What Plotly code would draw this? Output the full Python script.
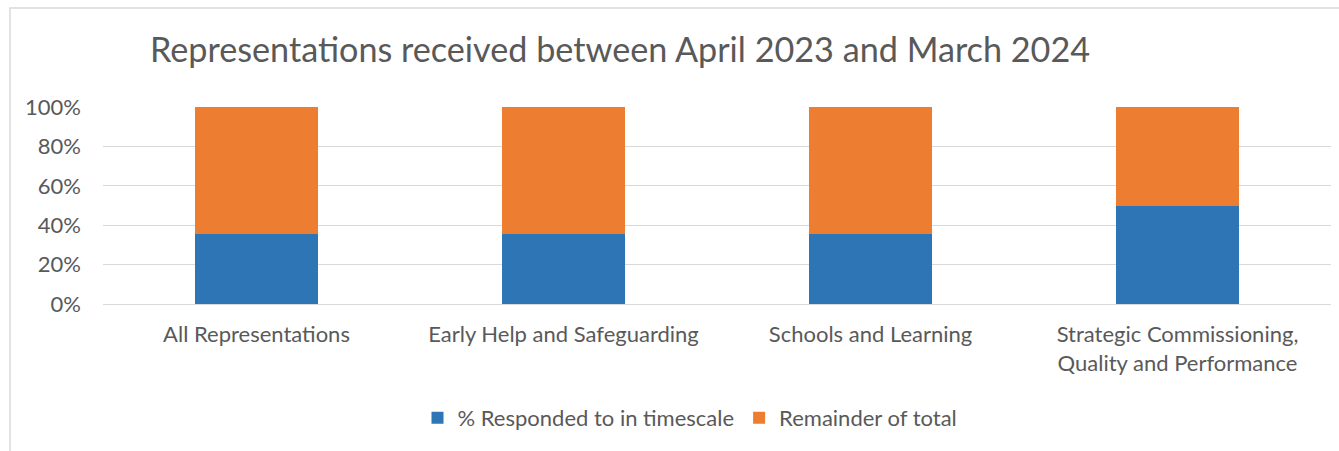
import plotly.graph_objects as go

# Chart data
categories = [
    "All Representations",
    "Early Help and Safeguarding",
    "Schools and Learning",
    "Strategic Commissioning,<br>Quality and Performance",
]
responded_pct = [0.354, 0.354, 0.354, 0.50]
remainder_pct = [1 - v for v in responded_pct]
series_names = ["% Responded to in timescale", "Remainder of total"]
y_ticks = [0, 0.2, 0.4, 0.6, 0.8, 1.0]

BLUE = "#2E75B6"
ORANGE = "#ED7D31"
TEXT = "#595959"
GRID = "#D9D9D9"
FONT = "Lato, 'Open Sans', sans-serif"

W, H = 1339, 451
L, R, T, B = 103, 8, 107, 147

fig = go.Figure()
fig.add_trace(go.Bar(x=categories, y=responded_pct, name=series_names[0],
                     marker=dict(color=BLUE, line=dict(width=0))))
fig.add_trace(go.Bar(x=categories, y=remainder_pct, name=series_names[1],
                     marker=dict(color=ORANGE, line=dict(width=0))))

plot_w = W - L - R
plot_h = H - T - B

def px_x(px):
    return (px - L) / plot_w

def px_y(py):
    return (H - B - py) / plot_h

fig.update_layout(
    width=W, height=H,
    margin=dict(l=L, r=R, t=T, b=B),
    barmode="stack",
    bargap=0.597,
    paper_bgcolor="white",
    plot_bgcolor="white",
    font=dict(family=FONT, size=22, color=TEXT),
    title=dict(
        text="Representations received between April 2023 and March 2024",
        font=dict(family=FONT, size=34.2, color=TEXT),
        x=px_x(620), xref="paper", xanchor="center",
        y=1 - 50 / H, yref="container", yanchor="middle",
    ),
    xaxis=dict(
        showgrid=False, showline=False, ticks="",
        tickfont=dict(size=22, color=TEXT),
        ticklabelstandoff=15,
    ),
    yaxis=dict(
        range=[0, 1], tickvals=y_ticks, tickformat=".0%",
        showgrid=True, gridcolor=GRID, gridwidth=1,
        zeroline=True, zerolinecolor=GRID, zerolinewidth=1,
        showline=False, ticks="",
        tickfont=dict(size=22, color=TEXT),
        ticklabelstandoff=21,
    ),
    legend=dict(
        orientation="h",
        x=px_x(690), xanchor="center",
        y=px_y(418), yanchor="middle",
        font=dict(size=22, color=TEXT),
        traceorder="normal",
        itemwidth=30,
    ),
    shapes=[
        # chart area frame
        dict(type="rect", xref="paper", yref="paper",
             x0=px_x(10), x1=px_x(W + 20), y0=px_y(H + 20), y1=px_y(8),
             line=dict(color=GRID, width=1.5), fillcolor="rgba(0,0,0,0)",
             layer="below"),
    ],
)

fig.write_html("out.html")
